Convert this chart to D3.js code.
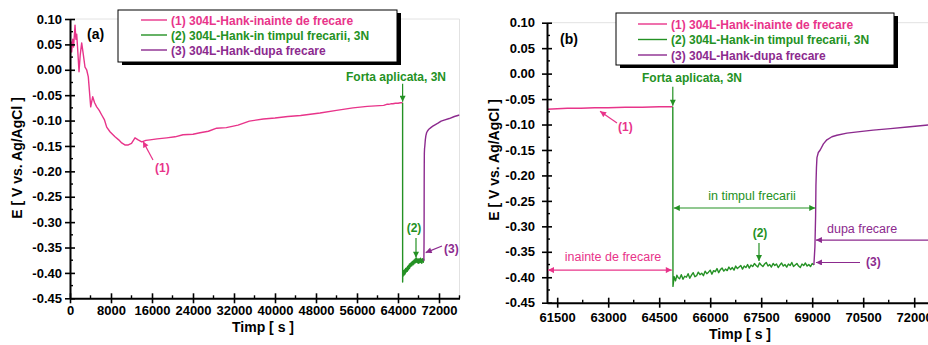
<!DOCTYPE html>
<html>
<head>
<meta charset="utf-8">
<script src="https://cdn.jsdelivr.net/npm/d3@7"></script>
<style>
body { margin: 0; background: #fff; }
svg { display: block; font-family: "Liberation Sans", Arial, sans-serif; }
</style>
</head>
<body>
<script>
// (1) before friction - time [s], potential [V]
var pinkT = [0, 200, 330, 530, 700, 980, 1150, 1310, 1500, 1760, 2000, 2280, 2600, 2930, 3250, 3570,
  4040, 4430, 4800, 5210, 5700, 6190, 6700, 7160, 7800, 8780, 9500, 10090, 10700, 11380, 12000,
  12680, 13300, 13990, 14800, 15610, 17000, 18870, 20500, 22050, 24000, 25370, 27000, 28620,
  30500, 32780, 35000, 37720, 40000, 42500, 45000, 48780, 52000, 55220, 58000, 61200, 61500,
  61800, 62200, 62600, 63000, 63500, 64000, 64500, 64900];
var pinkV = [0.040, 0.055, 0.035, 0.060, 0.045, 0.088, 0.060, 0.070, 0.040, -0.004, 0.030, 0.053,
  0.030, 0.005, 0.000, -0.014, -0.073, -0.053, -0.065, -0.073, -0.080, -0.089, -0.098, -0.113,
  -0.122, -0.132, -0.138, -0.144, -0.148, -0.148, -0.145, -0.134, -0.138, -0.142, -0.139, -0.138,
  -0.136, -0.134, -0.132, -0.128, -0.127, -0.124, -0.121, -0.115, -0.114, -0.109, -0.101, -0.097,
  -0.095, -0.092, -0.090, -0.085, -0.080, -0.075, -0.072, -0.070, -0.069, -0.068, -0.068, -0.067,
  -0.067, -0.066, -0.066, -0.065, -0.065];

// (2) during friction, 3N
var greenT = [64900, 64905, 64940, 64980, 65020, 65060, 65100, 65150, 65200, 65250, 65300, 65350,
  65400, 65450, 65500, 65550, 65600, 65650, 65700, 65750, 65800, 65850, 65900, 65950, 66000,
  66050, 66100, 66150, 66200, 66250, 66300, 66350, 66400, 66450, 66500, 66550, 66600, 66650,
  66700, 66750, 66800, 66850, 66900, 66950, 67000, 67050, 67100, 67150, 67200, 67250, 67300,
  67350, 67400, 67450, 67500, 67550, 67600, 67650, 67700, 67750, 67800, 67850, 67900, 67950,
  68000, 68050, 68100, 68150, 68200, 68250, 68300, 68350, 68400, 68450, 68500, 68550, 68600,
  68650, 68700, 68750, 68800, 68850, 68900, 68950, 69000, 69050];
var greenV = [-0.065, -0.418, -0.399, -0.407, -0.396, -0.401, -0.403, -0.395, -0.404, -0.398, -0.400,
  -0.393, -0.402, -0.396, -0.391, -0.399, -0.397, -0.390, -0.395, -0.392, -0.397, -0.388, -0.393,
  -0.390, -0.386, -0.394, -0.387, -0.389, -0.383, -0.391, -0.385, -0.382, -0.388, -0.384, -0.387,
  -0.380, -0.385, -0.381, -0.386, -0.378, -0.383, -0.380, -0.377, -0.384, -0.378, -0.381, -0.375,
  -0.382, -0.376, -0.379, -0.373, -0.377, -0.380, -0.372, -0.376, -0.379, -0.374, -0.371, -0.378,
  -0.375, -0.380, -0.373, -0.377, -0.374, -0.381, -0.376, -0.372, -0.378, -0.375, -0.380, -0.374,
  -0.377, -0.371, -0.379, -0.376, -0.373, -0.378, -0.381, -0.374, -0.377, -0.372, -0.378, -0.375,
  -0.379, -0.373, -0.376];

// (3) after friction
var purpleT = [69050, 69080, 69100, 69110, 69125, 69140, 69180, 69235, 69330, 69432, 69580, 69726,
  70021, 70400, 70794, 71300, 71800, 72412, 73000, 74000, 75000, 76000];
var purpleV = [-0.376, -0.340, -0.280, -0.220, -0.185, -0.165, -0.155, -0.150, -0.138, -0.130, -0.124,
  -0.121, -0.117, -0.114, -0.111, -0.108, -0.105, -0.101, -0.099, -0.096, -0.092, -0.089];

var legendLabels = ["(1) 304L-Hank-inainte de frecare", "(2) 304L-Hank-in timpul frecarii, 3N",
  "(3) 304L-Hank-dupa frecare"];
var yTicks = [0.10, 0.05, 0.00, -0.05, -0.10, -0.15, -0.20, -0.25, -0.30, -0.35, -0.40, -0.45];
var xTicksA = [0, 8000, 16000, 24000, 32000, 40000, 48000, 56000, 64000, 72000];
var xTicksB = [61500, 63000, 64500, 66000, 67500, 69000, 70500, 72000];

var PINK = "#e8348a", GREEN = "#249124", PURPLE = "#8c2a8e";
var series = [
  {t: pinkT, v: pinkV, color: PINK},
  {t: greenT, v: greenV, color: GREEN},
  {t: purpleT, v: purpleV, color: PURPLE}
];

var svg = d3.select("body").append("svg").attr("width", 928).attr("height", 345);
var defs = svg.append("defs");
[["pk", PINK], ["gr", GREEN], ["pu", PURPLE]].forEach(function(m) {
  defs.append("marker").attr("id", "ar-" + m[0])
    .attr("viewBox", "0 0 10 10").attr("refX", 10).attr("refY", 5)
    .attr("markerWidth", 7).attr("markerHeight", 6).attr("markerUnits", "userSpaceOnUse")
    .attr("orient", "auto-start-reverse")
    .append("path").attr("d", "M0,0L10,5L0,10z").attr("fill", m[1]);
});

function fmtY(v) {
  var s = Math.abs(v).toFixed(2);
  return (v < -1e-9 ? "-" : "") + s;
}
function mids(ticks) {
  var out = [];
  for (var i = 0; i < ticks.length - 1; i++) out.push((ticks[i] + ticks[i + 1]) / 2);
  return out;
}

function panel(o) {
  var x = d3.scaleLinear().domain(o.xDomain).range(o.xRange);
  var y = d3.scaleLinear().domain([-0.45, 0.10]).range(o.yRange);
  var g = svg.append("g");
  var x0 = o.xRange[0], x1 = o.xRange[1], yb = o.yRange[0], yt = o.yRange[1];

  g.append("line").attr("x1", x0).attr("x2", x1).attr("y1", yt).attr("y2", yt)
    .attr("stroke", "#e2e2e2").attr("stroke-width", 1);
  g.append("line").attr("x1", x1).attr("x2", x1).attr("y1", yt).attr("y2", yb)
    .attr("stroke", "#e2e2e2").attr("stroke-width", 1);

  defs.append("clipPath").attr("id", "clip-" + o.name).append("rect")
    .attr("x", x0).attr("y", yt - 10).attr("width", x1 - x0).attr("height", yb - yt + 20);

  var line = d3.line().x(function(d) { return x(d[0]); }).y(function(d) { return y(d[1]); });
  series.forEach(function(s) {
    g.append("path").datum(d3.zip(s.t, s.v)).attr("d", line)
      .attr("fill", "none").attr("stroke", s.color).attr("stroke-width", 1.4)
      .attr("stroke-linejoin", "round").attr("clip-path", "url(#clip-" + o.name + ")");
  });

  // y axis
  var ya = g.append("g").attr("transform", "translate(" + x0 + ",0)")
    .call(d3.axisLeft(y).tickValues(yTicks).tickFormat(fmtY).tickSizeInner(5).tickSizeOuter(0).tickPadding(o.yPad));
  ya.selectAll(".tick line").attr("x1", 5).attr("stroke-width", 1.6);
  ya.append("g").selectAll("line").data(mids(yTicks)).join("line")
    .attr("x1", 0).attr("x2", 3).attr("y1", y).attr("y2", y).attr("stroke", "#000").attr("stroke-width", 1.4);

  // x axis
  var xa = g.append("g").attr("transform", "translate(0," + yb + ")")
    .call(d3.axisBottom(x).tickValues(o.xTicks).tickFormat(d3.format("d")).tickSizeInner(5).tickSizeOuter(0).tickPadding(o.xPad));
  xa.selectAll(".tick line").attr("y1", -5).attr("stroke-width", 1.6);
  var xm = mids(o.xTicks);
  xm.push(o.xTicks[o.xTicks.length - 1] + (o.xTicks[1] - o.xTicks[0]) / 2);
  xa.append("g").selectAll("line").data(xm).join("line")
    .attr("x1", x).attr("x2", x).attr("y1", 0).attr("y2", -3).attr("stroke", "#000").attr("stroke-width", 1.4);

  [ya, xa].forEach(function(a) {
    a.select(".domain").attr("stroke-width", 2);
    a.selectAll("text").attr("font-size", 13).attr("font-weight", "bold")
      .attr("font-family", "'Liberation Sans', Arial, sans-serif").attr("fill", "#000");
  });

  g.append("text").attr("transform", "translate(" + o.yTitle[0] + "," + o.yTitle[1] + ") rotate(-90)")
    .attr("text-anchor", "middle").attr("font-size", 14).attr("font-weight", "bold")
    .text("E [ V vs. Ag/AgCl ]");
  g.append("text").attr("x", o.xTitle[0]).attr("y", o.xTitle[1]).attr("text-anchor", "middle")
    .attr("font-size", 14).attr("font-weight", "bold").text("Timp [ s ]");
  g.append("text").attr("x", o.tag[0]).attr("y", o.tag[1])
    .attr("font-size", 14).attr("font-weight", "bold").text(o.name === "a" ? "(a)" : "(b)");

  // legend
  var L = o.legend;
  g.append("rect").attr("x", L.x + 4).attr("y", L.y + 3).attr("width", L.w).attr("height", L.h).attr("fill", "#000");
  g.append("rect").attr("x", L.x).attr("y", L.y).attr("width", L.w).attr("height", L.h)
    .attr("fill", "#fff").attr("stroke", "#000").attr("stroke-width", 1);
  legendLabels.forEach(function(lab, i) {
    var cy = L.y + L.row0 + i * L.step;
    g.append("line").attr("x1", L.x + L.lx0).attr("x2", L.x + L.lx1).attr("y1", cy).attr("y2", cy)
      .attr("stroke", series[i].color).attr("stroke-width", 1.4);
    g.append("text").attr("x", L.x + L.lx1 + 4).attr("y", cy + 4.5).attr("font-size", 12)
      .attr("font-weight", "bold").attr("fill", series[i].color).text(lab);
  });

  return {x: x, y: y, g: g};
}

function arrow(g, x1, y1, x2, y2, color, id, both) {
  var l = g.append("line").attr("x1", x1).attr("y1", y1).attr("x2", x2).attr("y2", y2)
    .attr("stroke", color).attr("stroke-width", 1.2).attr("marker-end", "url(#ar-" + id + ")");
  if (both) l.attr("marker-start", "url(#ar-" + id + ")");
}
function label(g, x, y, txt, color, bold, anchor) {
  g.append("text").attr("x", x).attr("y", y).attr("font-size", bold ? 12 : 12.5)
    .attr("font-weight", bold ? "bold" : "normal").attr("fill", color)
    .attr("text-anchor", anchor || "start").text(txt);
}

// panel (a)
var A = panel({
  name: "a", xDomain: [0, 76000], xRange: [70, 459.5], yRange: [298.3, 19],
  xTicks: xTicksA, yPad: 3, xPad: 2, yTitle: [22, 158], xTitle: [263, 332], tag: [87, 39],
  legend: {x: 118, y: 10, w: 279, h: 52, row0: 10, step: 15, lx0: 23, lx1: 49}
});
var ax = A.x(64900), ay = A.y(-0.065);
arrow(A.g, ax, ay - 19, ax, ay - 1, GREEN, "gr");
label(A.g, 396, 81, "Forta aplicata, 3N", GREEN, true, "middle");
arrow(A.g, 153, 160, A.x(14244), A.y(-0.141), PINK, "pk");
label(A.g, 155, 172, "(1)", PINK, true);
arrow(A.g, A.x(67512), 238, A.x(67512), A.y(-0.370), GREEN, "gr");
label(A.g, 414, 232, "(2)", GREEN, true, "middle");
arrow(A.g, 442, 246, A.x(69400), A.y(-0.360), PURPLE, "pu");
label(A.g, 444, 253, "(3)", PURPLE, true);

// panel (b)
var B = panel({
  name: "b", xDomain: [61200, 73500], xRange: [547, 965.2], yRange: [302.7, 22.7],
  xTicks: xTicksB, yPad: 7, xPad: 5, yTitle: [499, 160], xTitle: [740, 339], tag: [560, 44],
  legend: {x: 616, y: 13, w: 278, h: 52, row0: 11, step: 15.5, lx0: 22, lx1: 51}
});
var bx = B.x(64900), by = B.y(-0.065);
arrow(B.g, bx, by - 20, bx, by - 1, GREEN, "gr");
label(B.g, 692, 82, "Forta aplicata, 3N", GREEN, true, "middle");
arrow(B.g, 617, 123, B.x(62760), B.y(-0.074), PINK, "pk");
label(B.g, 618, 131, "(1)", PINK, true);
arrow(B.g, B.x(61230), B.y(-0.386), bx - 1, B.y(-0.386), PINK, "pk", true);
label(B.g, 613, 261, "inainte de frecare", PINK, false, "middle");
arrow(B.g, bx + 1, B.y(-0.264), B.x(69090), B.y(-0.264), GREEN, "gr", true);
label(B.g, 752, 200, "in timpul frecarii", GREEN, false, "middle");
arrow(B.g, 940, B.y(-0.327), B.x(69110), B.y(-0.327), PURPLE, "pu");
label(B.g, 827, 233, "dupa frecare", PURPLE, false);
arrow(B.g, B.x(67435), 243, B.x(67435), B.y(-0.368), GREEN, "gr");
label(B.g, 760, 237, "(2)", GREEN, true, "middle");
arrow(B.g, 860, B.y(-0.371), B.x(69110), B.y(-0.371), PURPLE, "pu");
label(B.g, 866, 266, "(3)", PURPLE, true);
</script>
</body>
</html>
